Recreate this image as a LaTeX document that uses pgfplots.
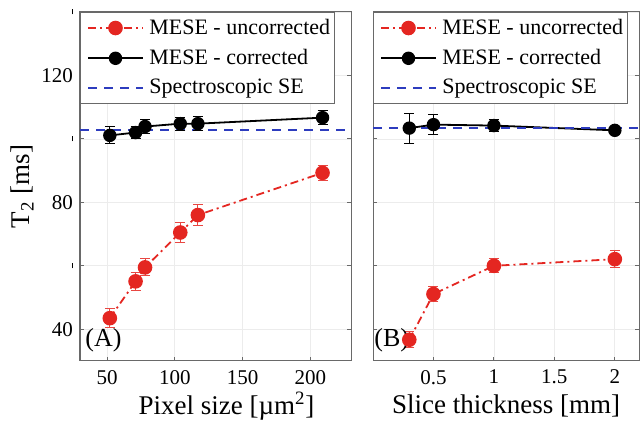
\documentclass[border=0pt]{standalone}
\usepackage{fontspec}
\setmainfont{Liberation Serif}
\usepackage{pgfplots}
\pgfplotsset{compat=1.18}
\definecolor{mred}{RGB}{228,38,33}
\definecolor{mblue}{RGB}{45,60,190}
\definecolor{fr}{RGB}{105,105,105}
\newcommand{\stub}{\rule{0.6pt}{2.5pt}}
\pgfplotsset{
  mystyle/.style={
    scale only axis,
    height=174.5pt,
    ymin=30, ymax=140,
    ytick={40,60,80,100,120,140},
    grid=major,
    grid style={gray!15, line width=0.4pt},
    axis line style={fr, line width=0.5pt},
    tick style={fr, line width=0.5pt},
    major tick length=2pt,
    tick align=inside,
    ticklabel style={font=\rmfamily\fontsize{10.5}{12}\selectfont},
    xticklabel style={yshift=-1pt},
    /pgf/number format/assume math mode=true,
    label style={font=\rmfamily\fontsize{13.5}{16}\selectfont},
    xlabel style={at={(axis description cs:0.5,0)}, anchor=center, yshift=-22.5pt},
    legend style={at={(rel axis cs:0,1)}, anchor=north west, draw=fr, fill=white,
      inner xsep=0pt, inner ysep=1.7pt, row sep=3pt, nodes={inner sep=1.5pt},
      font=\rmfamily\fontsize{11}{13}\selectfont, line width=0.5pt},
    legend cell align=left,
    legend image code/.code={
      \path (0pt,0pt) (32pt,0pt);
      \draw[mark repeat=2, mark phase=2, #1] plot coordinates {(3.3pt,0pt) (17.05pt,0pt) (30.8pt,0pt)};
    },
  },
  unc/.style={color=mred, line width=0.9pt, dash pattern=on 4pt off 2pt on 1pt off 2pt,
    mark=*, mark size=3.2pt, mark options={solid},
    error bars/.cd, y dir=both, y explicit,
    error bar style={solid, line width=0.5pt, mred!85},
    error mark options={rotate=90, mark size=2.5pt, line width=0.5pt, mred!85}},
  cor/.style={color=black, line width=0.9pt, solid,
    mark=*, mark size=2.9pt,
    error bars/.cd, y dir=both, y explicit,
    error bar style={solid, line width=0.5pt, black},
    error mark options={rotate=90, mark size=2.5pt, line width=0.5pt, black}},
  se/.style={color=mblue, draw=mblue, line width=0.9pt, dash pattern=on 4.5pt off 3.5pt, no marks},
}
\begin{document}
\begin{tikzpicture}
\useasboundingbox (0,0) rectangle (320pt,213pt);
% Panel A
\begin{axis}[mystyle, at={(40pt,32.5pt)}, anchor=south west, width=135.5pt,
  xmin=30, xmax=230, xtick={50,100,150,200},
  yticklabels={40,\stub,80,\stub,120,\stub},
  xlabel={Pixel size [µm\textsuperscript{2}]},
  xlabel style={xshift=5.5pt},
  ylabel={T\textsubscript{2} [ms]},
  ylabel style={at={(axis description cs:-0.214,0.5)}, anchor=center},
]
\addplot[se] coordinates {(30,102.9) (230,102.9)};
\addplot[unc] table[x=x, y=y, y error=e] {
x y e
52 43.5 3.0
71 55.1 2.9
78 59.5 2.7
104 70.5 3.0
117 76.0 3.4
209 89.3 2.4
};
\addplot[cor] table[x=x, y=y, y error=e] {
x y e
52 101.1 2.7
71 102.0 1.8
78 103.9 2.1
104 104.8 2.1
117 104.8 2.2
209 106.7 2.2
};
\legend{,\makebox[91pt][l]{MESE - uncorrected},MESE - corrected}
\addlegendimage{se}
\addlegendentry{Spectroscopic SE}
\node[anchor=base west, inner sep=0pt, font=\fontsize{13}{15}\selectfont, xshift=2.5pt, yshift=7pt] at (rel axis cs:0,0) {(A)};
\end{axis}
% Panel B
\begin{axis}[mystyle, at={(186.5pt,32.5pt)}, anchor=south west, width=133pt,
  xmin=0, xmax=2.2, xtick={0.5,1,1.5,2}, xticklabels={0.5,1,1.5,2},
  yticklabels={},
  xlabel={Slice thickness [mm]},
]
\addplot[unc] table[x=x, y=y, y error=e] {
x y e
0.3 36.7 2.5
0.5 51.1 2.5
1.0 60.0 2.2
2.0 62.1 2.7
};
\addlegendentry{\makebox[91pt][l]{MESE - uncorrected}}
\addplot[cor] table[x=x, y=y, y error=e] {
x y e
0.3 103.4 4.7
0.5 104.5 3.2
1.0 104.2 1.8
2.0 102.7 1.3
};
\addlegendentry{MESE - corrected}
\addplot[se] coordinates {(0,103.4) (2.2,103.4)};
\addlegendentry{Spectroscopic SE}
\node[anchor=base west, inner sep=0pt, font=\fontsize{13}{15}\selectfont, xshift=0.5pt, yshift=7pt] at (rel axis cs:0,0) {(B)};
\end{axis}
\end{tikzpicture}
\end{document}
